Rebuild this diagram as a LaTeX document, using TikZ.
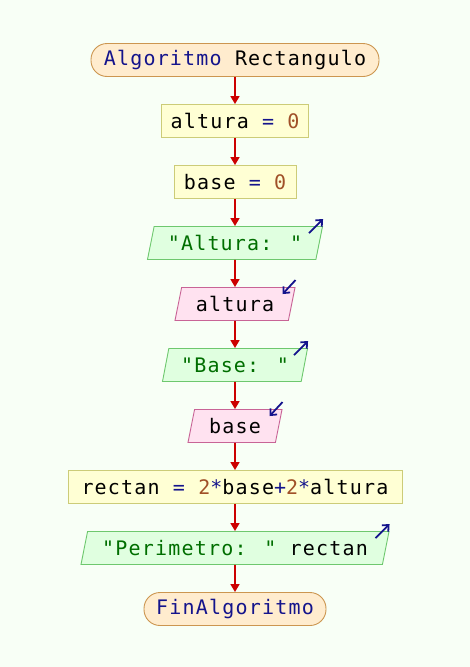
\documentclass[tikz,border=0pt]{standalone}
\usepackage{fontspec}
\newfontfamily\psfont[LetterSpace=6]{DejaVu Sans Mono}
\usetikzlibrary{arrows.meta, positioning, shapes.geometric, calc}
\definecolor{fondo}{RGB}{248,255,246}
\definecolor{termfondo}{RGB}{255,236,206}
\definecolor{termborde}{RGB}{204,150,80}
\definecolor{procfondo}{RGB}{255,255,212}
\definecolor{procborde}{RGB}{204,204,120}
\definecolor{salfondo}{RGB}{224,255,224}
\definecolor{salborde}{RGB}{110,200,110}
\definecolor{entfondo}{RGB}{255,226,240}
\definecolor{entborde}{RGB}{200,100,150}
\definecolor{flecha}{RGB}{204,0,0}
\definecolor{kwcol}{RGB}{20,20,140}
\definecolor{numcol}{RGB}{160,80,40}
\definecolor{strcol}{RGB}{0,110,0}
\newcommand{\kwd}[1]{\textcolor{kwcol}{#1}}
\newcommand{\numb}[1]{\textcolor{numcol}{#1}}
\newcommand{\strg}[1]{\textcolor{strcol}{#1}}
\tikzset{>={Triangle[width=9pt,length=8pt]}}
\tikzset{
  terminal/.style={rectangle, rounded corners=16pt, draw=termborde, fill=termfondo, line width=0.9pt, minimum height=33pt, inner sep=0pt},
  proceso/.style={rectangle, draw=procborde, fill=procfondo, line width=0.9pt, minimum height=33pt, inner sep=0pt},
  salida/.style={trapezium, trapezium left angle=67, trapezium right angle=113, trapezium stretches body, draw=salborde, fill=salfondo, line width=0.9pt, minimum height=33pt, inner sep=0pt},
  entrada/.style={trapezium, trapezium left angle=67, trapezium right angle=113, trapezium stretches body, draw=entborde, fill=entfondo, line width=0.9pt, minimum height=33pt, inner sep=0pt},
  flujo/.style={->, draw=flecha, fill=flecha, line width=1.6pt},
  icono/.style={-{Straight Barb[length=5pt,width=9pt]}, draw=kwcol, line width=1.8pt}
}
\begin{document}
\begin{tikzpicture}[x=1pt, y=1pt, on grid, node distance=61pt, font=\psfont\fontsize{20}{22}\selectfont]
\useasboundingbox[fill=fondo] (0,0) rectangle (470,-667);
\node (inicio) [terminal, minimum width=288pt] at (235,-60) {\kwd{Algoritmo} Rectangulo};
\node (alt0) [proceso, minimum width=147pt, below = of inicio] {altura \kwd{=} \numb{0}};
\node (base0) [proceso, minimum width=122pt, below = of alt0] {base \kwd{=} \numb{0}};
\node (msjalt) [salida, minimum width=175pt, below = of base0] {\strg{"Altura: "}};
\node (leealt) [entrada, minimum width=120pt, below = of msjalt] {altura};
\node (msjbase) [salida, minimum width=145pt, below = of leealt] {\strg{"Base: "}};
\node (leebase) [entrada, minimum width=94pt, below = of msjbase] {base};
\node (calc) [proceso, minimum width=334pt, below = of leebase] {rectan \kwd{=} \numb{2}\kwd{*}base\kwd{+}\numb{2}\kwd{*}altura};
\node (msjper) [salida, minimum width=308pt, below = of calc] {\strg{"Perimetro: "} rectan};
\node (fin) [terminal, minimum width=182pt, below = of msjper] {\kwd{FinAlgoritmo}};
\path[flujo]
  (inicio) edge (alt0)
  (alt0) edge (base0)
  (base0) edge (msjalt)
  (msjalt) edge (leealt)
  (leealt) edge (msjbase)
  (msjbase) edge (leebase)
  (leebase) edge (calc)
  (calc) edge (msjper)
  (msjper) edge (fin);
\foreach \n in {msjalt, msjbase, msjper}
  \draw[icono] ($(\n.top right corner)+(-14,-7)$) -- ($(\n.top right corner)+(0,7)$);
\foreach \n in {leealt, leebase}
  \draw[icono] ($(\n.top right corner)+(0,7)$) -- ($(\n.top right corner)+(-13,-7)$);
\end{tikzpicture}
\end{document}
